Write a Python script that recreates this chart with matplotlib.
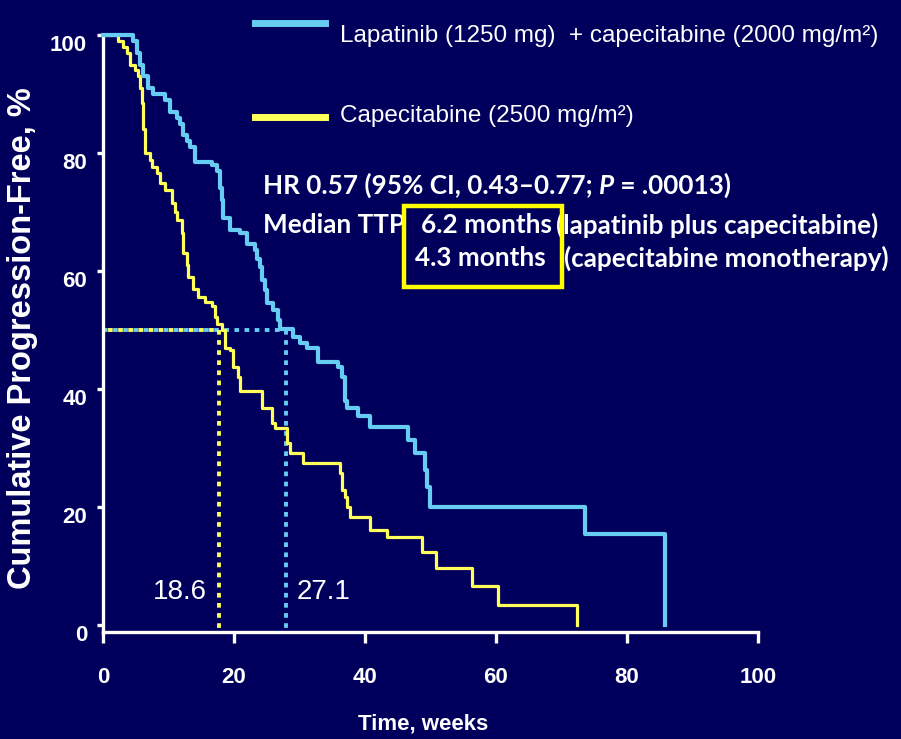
import matplotlib

matplotlib.use("Agg")
import matplotlib.pyplot as plt
from matplotlib import font_manager
from matplotlib.lines import Line2D
from matplotlib.patches import Rectangle
from matplotlib.transforms import ScaledTranslation

# Kaplan-Meier steps: week of each drop, % progression-free after it
LAP_WEEKS = [0, 4.6, 5.2, 5.6, 6.1, 6.9, 7.6, 9.5, 10.2, 11.3, 11.8, 12.2, 12.8, 13.3,
             14.0, 16.6, 17.4, 17.9, 18.2, 18.3, 19.4, 20.9, 22.0, 23.2, 23.5, 24.0,
             24.3, 24.7, 25.0, 25.9, 26.7, 27.0, 29.0, 30.1, 31.1, 32.8, 35.9, 36.5,
             36.9, 37.3, 38.9, 40.8, 46.6, 47.6, 49.2, 49.5, 49.9, 73.6, 85.8]
LAP_PCT = [100, 99, 97, 95, 93, 91, 90, 89, 87, 86, 85, 83, 82, 81,
           78.5, 78, 77, 74, 72, 69, 67, 66.4, 64.6, 63.5, 62, 60.7,
           58.5, 56.8, 54.5, 53.4, 51.7, 50.2, 48.8, 47.8, 47, 44.6, 43.7, 42,
           38, 36.8, 35.4, 33.6, 31.4, 29.2, 26.3, 23.4, 20, 15.4, 0]

CAP_WEEKS = [0, 2.3, 3.1, 3.7, 4.1, 4.9, 5.3, 5.6, 6.0, 6.1, 6.4, 7.2, 7.5, 8.2, 8.7,
             9.5, 10.5, 11.0, 11.3, 12.1, 12.2, 12.8, 13.0, 13.7, 14.5, 15.6, 16.6,
             17.1, 17.4, 18.2, 18.6, 19.4, 19.8, 20.6, 20.9, 24.3, 25.8, 26.3, 28.1,
             28.5, 30.5, 36.2, 36.5, 36.9, 37.3, 37.7, 40.8, 43.4, 48.7, 50.8, 56.3,
             60.3, 72.4]
CAP_PCT = [100, 99, 98, 97, 95, 94, 93, 91, 88.5, 84, 80, 78.8, 77.6, 76.6, 75,
           73.8, 71.5, 70, 68.6, 66.4, 63, 61, 59, 57, 55.6, 54.7, 54,
           52.2, 51, 50, 47, 46.6, 43.7, 42, 39.7, 36.8, 34.2, 33.4, 30.8,
           29.2, 27.4, 25.7, 22.9, 21.7, 20, 18.3, 16.1, 14.9, 12.4, 9.7, 6.6,
           3.4, 0]

MEDIAN_WEEKS = [17.7, 28.0]  # where the dotted drop lines are drawn (cap, lap)
MEDIAN_LEVEL = 50
MEDIAN_LABELS = ["18.6", "27.1"]
MEDIAN_LABEL_POS = [(11.8, 5.6), (33.6, 5.6)]

LEGEND_LABELS = ["Lapatinib (1250 mg)  + capecitabine (2000 mg/m\u00b2)",
                 "Capecitabine (2500 mg/m\u00b2)"]
X_TICKS = [0, 20, 40, 60, 80, 100]
Y_TICKS = [0, 20, 40, 60, 80, 100]

BG = "#00005c"
BLUE = "#66ccf2"
YELLOW = "#ffff5a"
BOX_YELLOW = "#ffff00"

W, H = 901, 739


def fx(px):
    return px / W


def fy(py):
    return 1 - py / H


names = {f.name for f in font_manager.fontManager.ttflist}
SANS = "Liberation Sans" if "Liberation Sans" in names else "DejaVu Sans"
BODY = "Lato" if "Lato" in names else "DejaVu Sans"

fig = plt.figure(figsize=(W / 100, H / 100), dpi=100, facecolor=BG)
# axes box: x 0..100 spans px 103..758, y 100 at px 35, x-axis line at px 632
ax = fig.add_axes([fx(103), fy(632), (758 - 103) / W, (632 - 35) / H], facecolor=BG)

ax.step(CAP_WEEKS, CAP_PCT, where="post", color=YELLOW, lw=2.3, zorder=4, clip_on=False)
ax.step(LAP_WEEKS, LAP_PCT, where="post", color=BLUE, lw=3.0, zorder=5, clip_on=False)

y_floor = -(632 - 625) / 5.9
ax.set_xlim(0, 100)
ax.set_ylim(y_floor, 100)

# median guide lines: blue and yellow dots interleave along the shared 50% line
ax.plot([0, MEDIAN_WEEKS[1]], [MEDIAN_LEVEL] * 2, color=BLUE, lw=2.8,
        linestyle=(0, (1.2, 1.4)), dash_capstyle="butt", zorder=2)
ax.plot([0, MEDIAN_WEEKS[0]], [MEDIAN_LEVEL] * 2, color=YELLOW, lw=2.8,
        linestyle=(1.3, (1.2, 1.4)), dash_capstyle="butt", zorder=3)
ax.plot([MEDIAN_WEEKS[0]] * 2, [MEDIAN_LEVEL, y_floor], color=YELLOW, lw=2.8,
        linestyle=(0, (1.2, 1.4)), dash_capstyle="butt", zorder=2)
ax.plot([MEDIAN_WEEKS[1]] * 2, [MEDIAN_LEVEL, y_floor], color=BLUE, lw=2.8,
        linestyle=(0, (1.2, 1.4)), dash_capstyle="butt", zorder=2)

for (x, y), lab in zip(MEDIAN_LABEL_POS, MEDIAN_LABELS):
    ax.text(x, y, lab, ha="center", va="center", color="white", fontsize=20,
            family=SANS)

for side in ("top", "right"):
    ax.spines[side].set_visible(False)
for side in ("left", "bottom"):
    ax.spines[side].set_color("white")
    ax.spines[side].set_linewidth(2.4)

ax.set_xticks(X_TICKS)
ax.set_yticks(Y_TICKS)
ax.tick_params(axis="x", direction="out", length=8, width=2.4, color="white", pad=17)
ax.tick_params(axis="y", direction="out", length=4.5, width=2.4, color="white", pad=7)
tick_font = dict(family=SANS, weight="bold", size=16)
ax.set_xticklabels([str(t) for t in X_TICKS], color="white", **tick_font)
ax.set_yticklabels([str(t) for t in Y_TICKS], color="white", **tick_font)
shift = ScaledTranslation(0, -8 / 100, fig.dpi_scale_trans)
for lab in ax.get_yticklabels():
    lab.set_transform(lab.get_transform() + shift)

fig.text(fx(423), fy(724), "Time, weeks", ha="center", va="center", color="white",
         family=SANS, weight="bold", size=16)
fig.text(fx(23), fy(338), "Cumulative Progression-Free, %", ha="center", va="center",
         rotation=90, color="white", family=SANS, weight="bold", size=23.5)

# legend keys and labels
fig.add_artist(Line2D([fx(255), fx(325)], [fy(23)] * 2, color=BLUE, lw=5,
                      transform=fig.transFigure))
fig.add_artist(Line2D([fx(255), fx(325)], [fy(117)] * 2, color=YELLOW, lw=5,
                      transform=fig.transFigure))
legend_font = dict(family=SANS, size=17.5, color="white", va="center", ha="left")
fig.text(fx(340), fy(36), LEGEND_LABELS[0], **legend_font)
fig.text(fx(340), fy(116), LEGEND_LABELS[1], **legend_font)

# statistics block
body = dict(family=BODY, weight="bold", size=18.8, color="white", va="center")
t1 = fig.text(fx(263), fy(185), "HR 0.57 (95% CI, 0.43\u20130.77; ", **body)
t2 = ax.annotate("P", xy=(1, 0), xycoords=t1, va="bottom", ha="left",
                 family=BODY, weight="bold", style="italic", size=18.8, color="white")
ax.annotate(" = .00013)", xy=(1, 0), xycoords=t2, va="bottom", ha="left",
            family=BODY, weight="bold", size=18.8, color="white")
fig.text(fx(263), fy(225), "Median TTP", **body)
fig.text(fx(421), fy(225), "6.2 months", **body)
fig.text(fx(556), fy(225), "(lapatinib plus capecitabine)", **body)
fig.text(fx(415), fy(258), "4.3 months", **body)
fig.text(fx(564), fy(258), "(capecitabine monotherapy)", **body)
fig.patches.append(Rectangle((fx(404), fy(287)), fx(562) - fx(404), fy(206) - fy(287),
                             transform=fig.transFigure, fill=False, ec=BOX_YELLOW,
                             lw=3.2, zorder=6))

fig.savefig("out.png", dpi=100, facecolor=BG)
